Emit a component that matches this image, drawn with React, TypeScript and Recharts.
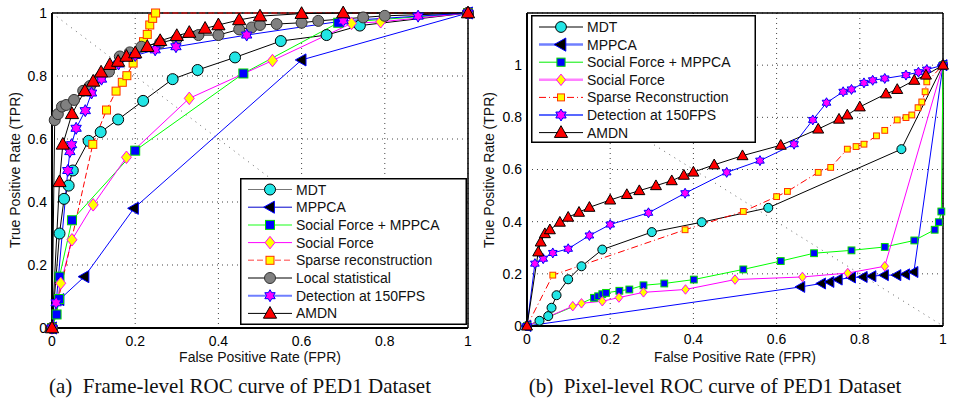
import { LineChart, Line, XAxis, YAxis, CartesianGrid, ReferenceLine } from "recharts";

const SANS = '"Liberation Sans", Arial, Helvetica, sans-serif';
const SERIF = '"Liberation Serif", "Times New Roman", serif';
const TICKS = [0, 0.2, 0.4, 0.6, 0.8, 1];

// (a) frame-level ROC, PED1
const mdtFrameX = [0, 0.018, 0.029, 0.04, 0.05, 0.088, 0.117, 0.159, 0.219, 0.29, 0.35, 0.44, 0.55, 0.66, 0.74, 1];
const mdtFrameY = [0, 0.3, 0.41, 0.452, 0.5, 0.594, 0.622, 0.662, 0.721, 0.79, 0.819, 0.859, 0.911, 0.93, 0.96, 1];
const mppcaFrameX = [0, 0.018, 0.078, 0.197, 0.6, 1];
const mppcaFrameY = [0, 0.09, 0.163, 0.38, 0.851, 1];
const sfMppcaFrameX = [0, 0.011, 0.017, 0.018, 0.048, 0.2, 0.46, 0.688, 1];
const sfMppcaFrameY = [0, 0.043, 0.092, 0.163, 0.342, 0.563, 0.808, 0.969, 1];
const sfFrameX = [0, 0.021, 0.048, 0.099, 0.179, 0.33, 0.53, 0.72, 0.79, 1];
const sfFrameY = [0, 0.142, 0.28, 0.391, 0.542, 0.729, 0.849, 0.967, 0.972, 1];
const sparseFrameX = [0, 0.098, 0.131, 0.154, 0.169, 0.18, 0.195, 0.22, 0.229, 0.235, 0.242, 0.249, 1];
const sparseFrameY = [0, 0.583, 0.692, 0.752, 0.78, 0.801, 0.841, 0.909, 0.932, 0.962, 0.983, 1, 1];
const localFrameX = [0, 0.0065, 0.014, 0.024, 0.034, 0.053, 0.075, 0.091, 0.115, 0.137, 0.163, 0.187, 0.215, 0.26, 0.3, 0.352, 0.4, 0.45, 0.48, 0.5, 0.54, 0.6, 0.64, 0.748, 0.8, 1];
const localFrameY = [0, 0.66, 0.679, 0.703, 0.708, 0.724, 0.753, 0.768, 0.795, 0.814, 0.862, 0.875, 0.893, 0.905, 0.918, 0.93, 0.93, 0.948, 0.954, 0.962, 0.965, 0.969, 0.975, 0.986, 0.991, 1];
const detFrameX = [0, 0.01, 0.038, 0.043, 0.047, 0.058, 0.08, 0.095, 0.119, 0.16, 0.2, 0.248, 0.298, 0.468, 0.7, 0.88, 1];
const detFrameY = [0, 0.08, 0.5, 0.56, 0.582, 0.634, 0.69, 0.746, 0.79, 0.838, 0.865, 0.883, 0.893, 0.93, 0.975, 0.99, 1];
const amdnFrameX = [0, 0.018, 0.026, 0.048, 0.079, 0.099, 0.118, 0.139, 0.159, 0.179, 0.2, 0.229, 0.26, 0.3, 0.33, 0.368, 0.4, 0.45, 0.5, 0.6, 0.7, 1];
const amdnFrameY = [0, 0.464, 0.583, 0.68, 0.753, 0.783, 0.812, 0.836, 0.846, 0.862, 0.873, 0.893, 0.912, 0.928, 0.938, 0.951, 0.962, 0.978, 0.99, 0.998, 1, 1];

// (b) pixel-level ROC, PED1
const mdtPixelX = [0, 0.03, 0.051, 0.059, 0.071, 0.099, 0.131, 0.181, 0.3, 0.42, 0.58, 0.9, 1];
const mdtPixelY = [0, 0.02, 0.038, 0.07, 0.118, 0.179, 0.229, 0.293, 0.36, 0.398, 0.453, 0.678, 1];
const mppcaPixelX = [0, 0.658, 0.708, 0.728, 0.748, 0.78, 0.808, 0.829, 0.859, 0.889, 0.91, 0.93, 1];
const mppcaPixelY = [0, 0.15, 0.163, 0.169, 0.178, 0.186, 0.188, 0.191, 0.195, 0.195, 0.198, 0.207, 1];
const sfMppcaPixelX = [0, 0.161, 0.171, 0.181, 0.19, 0.222, 0.246, 0.28, 0.33, 0.401, 0.52, 0.61, 0.69, 0.78, 0.86, 0.931, 0.98, 0.99, 0.996, 1];
const sfMppcaPixelY = [0, 0.108, 0.114, 0.122, 0.127, 0.135, 0.14, 0.156, 0.163, 0.178, 0.217, 0.249, 0.279, 0.29, 0.303, 0.328, 0.369, 0.398, 0.439, 1];
const sfPixelX = [0, 0.11, 0.131, 0.181, 0.221, 0.28, 0.381, 0.5, 0.662, 0.771, 0.86, 1];
const sfPixelY = [0, 0.076, 0.087, 0.095, 0.109, 0.129, 0.14, 0.178, 0.188, 0.203, 0.229, 1];
const sparsePixelX = [0, 0.062, 0.38, 0.52, 0.6, 0.626, 0.7, 0.73, 0.77, 0.791, 0.81, 0.84, 0.86, 0.89, 0.911, 0.925, 0.94, 0.949, 0.957, 0.961, 1];
const sparsePixelY = [0, 0.195, 0.369, 0.439, 0.496, 0.516, 0.589, 0.608, 0.678, 0.688, 0.697, 0.729, 0.75, 0.79, 0.799, 0.809, 0.837, 0.859, 0.898, 0.936, 1];
const detPixelX = [0, 0.019, 0.039, 0.062, 0.099, 0.15, 0.2, 0.292, 0.38, 0.48, 0.56, 0.642, 0.687, 0.72, 0.76, 0.78, 0.81, 0.831, 0.86, 0.911, 0.941, 0.961, 1];
const detPixelY = [0, 0.239, 0.258, 0.28, 0.296, 0.347, 0.389, 0.434, 0.509, 0.589, 0.634, 0.697, 0.79, 0.856, 0.898, 0.907, 0.932, 0.942, 0.949, 0.962, 0.973, 0.983, 1];
const amdnPixelX = [0, 0.027, 0.033, 0.043, 0.055, 0.079, 0.099, 0.125, 0.15, 0.2, 0.24, 0.27, 0.31, 0.348, 0.377, 0.4, 0.45, 0.518, 0.61, 0.7, 0.75, 0.77, 0.8, 0.863, 0.89, 0.931, 0.959, 1];
const amdnPixelY = [0, 0.284, 0.322, 0.354, 0.369, 0.398, 0.417, 0.436, 0.455, 0.483, 0.504, 0.519, 0.538, 0.557, 0.578, 0.59, 0.618, 0.653, 0.693, 0.755, 0.793, 0.809, 0.84, 0.89, 0.907, 0.942, 0.962, 1];

const zip = (xs: number[], ys: number[]) => xs.map((x, i) => ({ x, y: ys[i] }));

type Shape = "circle" | "triLeft" | "square" | "diamond" | "triUp" | "hexagram";
interface Series {
  name: string;
  data: { x: number; y: number }[];
  color: string;
  dash?: string;
  shape: Shape;
  fill: string;
  edge: string;
  size: number;
  legendColor: string;
  legendWidth?: number;
}

function Marker({ shape, cx, cy, size, fill, edge }: { shape: Shape; cx: number; cy: number; size: number; fill: string; edge: string }) {
  const s = size;
  const common = { fill, stroke: edge, strokeWidth: 1 };
  if (shape === "circle") return <circle cx={cx} cy={cy} r={s} {...common} />;
  if (shape === "square") return <rect x={cx - s} y={cy - s} width={2 * s} height={2 * s} {...common} />;
  let pts: number[][] = [];
  if (shape === "diamond") pts = [[cx, cy - s * 1.25], [cx + s, cy], [cx, cy + s * 1.25], [cx - s, cy]];
  if (shape === "triUp") pts = [[cx, cy - s * 1.15], [cx + s * 1.1, cy + s * 0.8], [cx - s * 1.1, cy + s * 0.8]];
  if (shape === "triLeft") pts = [[cx - s * 1.15, cy], [cx + s * 0.8, cy - s * 1.1], [cx + s * 0.8, cy + s * 1.1]];
  if (shape === "hexagram") {
    for (let i = 0; i < 12; i++) {
      const a = -Math.PI / 2 + (i * Math.PI) / 6;
      const r = i % 2 === 0 ? s : s / Math.sqrt(3);
      pts.push([cx + r * Math.cos(a), cy + r * Math.sin(a)]);
    }
  }
  return <polygon points={pts.map((p) => p.join(",")).join(" ")} {...common} />;
}

const renderDot = (s: Series) => (p: any) => (
  <g key={`${s.name}-${p.index}`}>
    {p.cx != null && p.cy != null && (
      <Marker shape={s.shape} cx={p.cx} cy={p.cy} size={s.size} fill={s.fill} edge={s.edge} />
    )}
  </g>
);

const frameSeries: Series[] = [
  { name: "MDT", data: zip(mdtFrameX, mdtFrameY), color: "#000", shape: "circle", fill: "#22e5e5", edge: "#000", size: 5.5, legendColor: "#777" },
  { name: "MPPCA", data: zip(mppcaFrameX, mppcaFrameY), color: "#0000ff", shape: "triLeft", fill: "#000", edge: "#0000ff", size: 5.5, legendColor: "#0000cc" },
  { name: "Social Force + MPPCA", data: zip(sfMppcaFrameX, sfMppcaFrameY), color: "#00ff00", shape: "square", fill: "#0000ff", edge: "#00dd00", size: 4.5, legendColor: "#66ff66", legendWidth: 1.5 },
  { name: "Social Force", data: zip(sfFrameX, sfFrameY), color: "#ff00ff", shape: "diamond", fill: "#ffff00", edge: "#ff00ff", size: 5, legendColor: "#ff00ff" },
  { name: "Sparse reconstruction", data: zip(sparseFrameX, sparseFrameY), color: "#ff0000", dash: "6 3", shape: "square", fill: "#ffff00", edge: "#ff3300", size: 4, legendColor: "#ff8080", legendWidth: 1.5 },
  { name: "Local statistical", data: zip(localFrameX, localFrameY), color: "#000", shape: "circle", fill: "#808080", edge: "#333", size: 5.5, legendColor: "#000" },
  { name: "Detection at 150FPS", data: zip(detFrameX, detFrameY), color: "#0000ff", shape: "hexagram", fill: "#ff00ff", edge: "#0000ff", size: 6, legendColor: "#6f7fff", legendWidth: 2 },
  { name: "AMDN", data: zip(amdnFrameX, amdnFrameY), color: "#000", shape: "triUp", fill: "#ff0000", edge: "#000", size: 6, legendColor: "#000" },
];

const pixelSeries: Series[] = [
  { name: "MDT", data: zip(mdtPixelX, mdtPixelY), color: "#000", shape: "circle", fill: "#22e5e5", edge: "#000", size: 4.5, legendColor: "#000" },
  { name: "MPPCA", data: zip(mppcaPixelX, mppcaPixelY), color: "#0000ff", shape: "triLeft", fill: "#000", edge: "#0000ff", size: 5, legendColor: "#6f7fff", legendWidth: 2.5 },
  { name: "Social Force + MPPCA", data: zip(sfMppcaPixelX, sfMppcaPixelY), color: "#00ff00", shape: "square", fill: "#0000ff", edge: "#00dd00", size: 3.4, legendColor: "#00ee00" },
  { name: "Social Force", data: zip(sfPixelX, sfPixelY), color: "#ff00ff", shape: "diamond", fill: "#ffff00", edge: "#ff00ff", size: 3.8, legendColor: "#ff80ff", legendWidth: 2.5 },
  { name: "Sparse Reconstruction", data: zip(sparsePixelX, sparsePixelY), color: "#ff0000", dash: "7 3 1 3", shape: "square", fill: "#ffff00", edge: "#ff3300", size: 2.9, legendColor: "#ff0000" },
  { name: "Detection at 150FPS", data: zip(detPixelX, detPixelY), color: "#0000ff", shape: "hexagram", fill: "#ff00ff", edge: "#0000ff", size: 5, legendColor: "#5868ff", legendWidth: 2 },
  { name: "AMDN", data: zip(amdnPixelX, amdnPixelY), color: "#000", shape: "triUp", fill: "#ff0000", edge: "#000", size: 5, legendColor: "#000" },
];

function LegendBox({ series, left, top, width, height, firstY, rowH, markerScale }: any) {
  return (
    <svg style={{ position: "absolute", left, top }} width={width} height={height}>
      <rect x={0.75} y={0.75} width={width - 1.5} height={height - 1.5} fill="#fff" stroke="#000" strokeWidth={1.5} />
      {series.map((s: Series, i: number) => {
        const y = firstY + i * rowH;
        return (
          <g key={s.name}>
            <line x1={8} x2={52} y1={y} y2={y} stroke={s.legendColor} strokeWidth={s.legendWidth ?? 1} strokeDasharray={s.dash} />
            <Marker shape={s.shape} cx={30} cy={y} size={s.size * markerScale} fill={s.fill} edge={s.edge} />
            <text x={56} y={y} dy="0.36em" fontFamily={SANS} fontSize={14} fill="#111">{s.name}</text>
          </g>
        );
      })}
    </svg>
  );
}

function RocPanel({ left, width, yAxisW, rightM, bottomM, yMax, series }: any) {
  const tick = { fill: "#000", fontSize: 14, fontFamily: SANS };
  return (
    <div style={{ position: "absolute", left, top: 0 }}>
      <LineChart width={width} height={400} margin={{ top: 13, right: rightM, bottom: bottomM, left: 0 }}>
        <CartesianGrid stroke="#444" strokeDasharray="1 4" />
        <XAxis type="number" dataKey="x" domain={[0, 1]} ticks={TICKS} height={30} tickLine={false} tickSize={0} tickMargin={8} axisLine={{ stroke: "#000", strokeWidth: 2 }} tick={tick} />
        <YAxis type="number" domain={[0, yMax]} ticks={TICKS} width={yAxisW} tickLine={false} tickSize={0} tickMargin={5} axisLine={{ stroke: "#000", strokeWidth: 2 }} tick={tick} />
        <ReferenceLine segment={[{ x: 0, y: 1 }, { x: 1, y: 0 }]} stroke="#666" strokeDasharray="1 5" />
        <ReferenceLine y={yMax} stroke="#000" strokeWidth={1.5} />
        <ReferenceLine x={1} stroke="#000" strokeWidth={1.5} />
        {series.map((s: Series) => (
          <Line
            key={s.name}
            data={s.data}
            dataKey="y"
            type="linear"
            stroke={s.color}
            strokeWidth={1}
            strokeDasharray={s.dash}
            dot={renderDot(s)}
            activeDot={false}
            isAnimationActive={false}
          />
        ))}
      </LineChart>
    </div>
  );
}

const abs = (l: number, t: number, extra: any = {}) => ({
  position: "absolute" as const,
  left: l,
  top: t,
  transform: "translate(-50%, -50%)" + (extra.rotate ? " rotate(-90deg)" : ""),
  whiteSpace: "pre" as const,
  fontFamily: extra.serif ? SERIF : SANS,
  fontSize: extra.size ?? 14,
  color: "#111",
});

export default function App() {
  return (
    <div style={{ position: "absolute", left: 0, top: 0, width: 954, height: 400, background: "#fff" }}>
      <RocPanel left={0} width={480} yAxisW={52} rightM={12} bottomM={42} yMax={1} series={frameSeries} />
      <RocPanel left={480} width={474} yAxisW={47} rightM={11} bottomM={44} yMax={1.2} series={pixelSeries} />
      <LegendBox series={frameSeries} left={240} top={178} width={227} height={147} firstY={11.5} rowH={17.7} markerScale={1} />
      <LegendBox series={pixelSeries} left={531} top={15} width={225} height={128} firstY={12} rowH={17.6} markerScale={1.2} />
      <div style={abs(260, 357)}>False Positive Rate (FPR)</div>
      <div style={abs(735, 357)}>False Positive Rate (FPR)</div>
      <div style={abs(15, 170, { rotate: true })}>True Positive Rate (TPR)</div>
      <div style={abs(489, 170, { rotate: true })}>True Positive Rate (TPR)</div>
      <div style={abs(240, 386, { serif: true, size: 21 })}>(a)  Frame-level ROC curve of PED1 Dataset</div>
      <div style={abs(715, 386, { serif: true, size: 21 })}>(b)  Pixel-level ROC curve of PED1 Dataset</div>
    </div>
  );
}
